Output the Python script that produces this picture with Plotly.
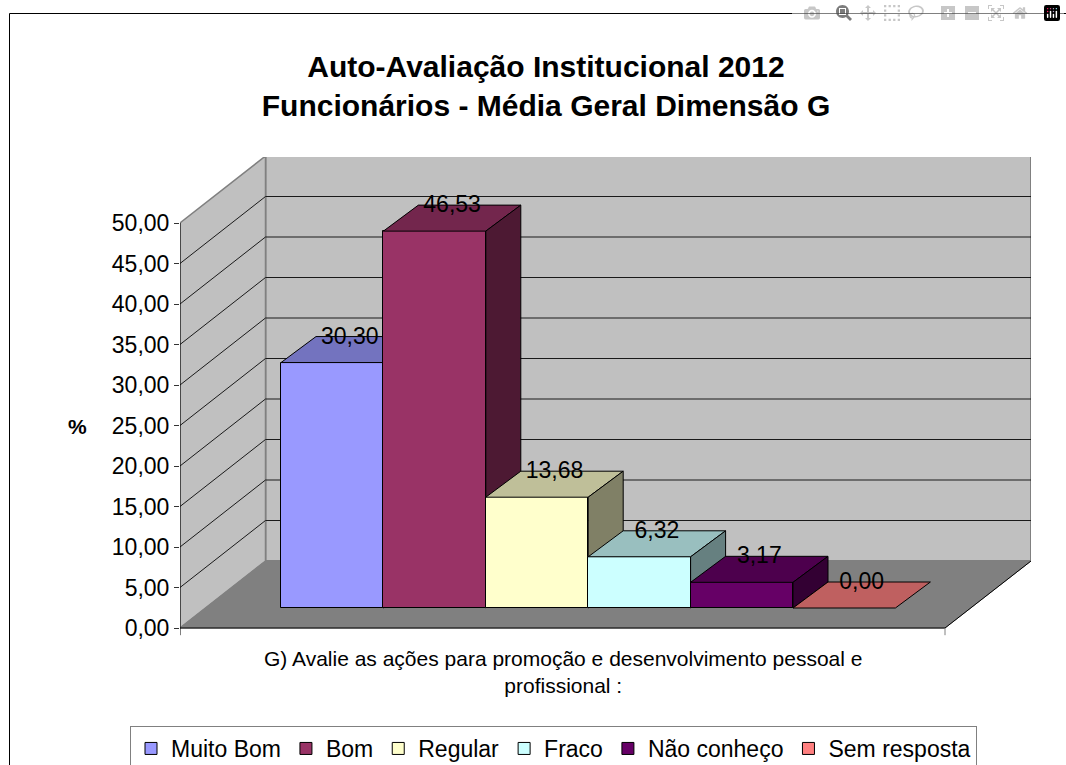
import plotly.graph_objects as go

# --- data ---
categories = ["Muito Bom", "Bom", "Regular", "Fraco", "Não conheço", "Sem resposta"]
values = [30.30, 46.53, 13.68, 6.32, 3.17, 0.00]
front_colors = ["#9999FF", "#993366", "#FFFFCC", "#CCFFFF", "#660066", "#FF8080"]
top_colors = ["#7373BF", "#73264D", "#BFBF99", "#99BFBF", "#4D004D", "#BF6060"]
side_colors = ["#4D4D80", "#4D1933", "#808066", "#668080", "#330033", "#804040"]
y_ticks = [0, 5, 10, 15, 20, 25, 30, 35, 40, 45, 50]
title_text = "Auto-Avaliação Institucional 2012<br>Funcionários - Média Geral Dimensão G"
x_label = "G) Avalie as ações para promoção e desenvolvimento pessoal e<br>profissional :"

# --- layout geometry (plot frame in pixels and 3-D projection in axis units) ---
W, H = 1066, 765
L, R, T, B = 180, 1031, 157, 640
PX_PER_BAR = 102.4
PX_PER_VAL = 8.1
X_MAX = (R - L) / PX_PER_BAR
Y_MIN = -(B - 628) / PX_PER_VAL
Y_MAX = (628 - T) / PX_PER_VAL
DEPTH_X = 85.5 / PX_PER_BAR
DEPTH_Y = 67 / PX_PER_VAL
FRONT_W = 765 / PX_PER_BAR
BASE_X = 25.5 / PX_PER_BAR
BASE_Y = 20 / PX_PER_VAL
BAR_DX = 35 / PX_PER_BAR
BAR_DY = 26 / PX_PER_VAL
FIRST_LEFT = 101 / PX_PER_BAR
FONT = "Liberation Sans, Arial, sans-serif"
TOP_V = y_ticks[-1]

fig = go.Figure()

def poly(xs, ys, fill, line, width=1, xa="x", ya="y"):
    fig.add_trace(go.Scatter(x=xs, y=ys, mode="lines", fill="toself", fillcolor=fill,
                             line=dict(color=line, width=width), showlegend=False,
                             hoverinfo="skip", xaxis=xa, yaxis=ya))

def lines(xs, ys, color, width=1):
    fig.add_trace(go.Scatter(x=xs, y=ys, mode="lines", line=dict(color=color, width=width),
                             showlegend=False, hoverinfo="skip"))

# walls and floor
poly([DEPTH_X, X_MAX, X_MAX, DEPTH_X, DEPTH_X],
     [DEPTH_Y, DEPTH_Y, TOP_V + DEPTH_Y, TOP_V + DEPTH_Y, DEPTH_Y], "#C0C0C0", "#808080", 2)
poly([0, DEPTH_X, DEPTH_X, 0, 0], [0, DEPTH_Y, TOP_V + DEPTH_Y, TOP_V, 0], "#C0C0C0", "#808080", 1.5)
poly([0, FRONT_W, X_MAX, DEPTH_X, 0], [0, 0, DEPTH_Y, DEPTH_Y, 0], "#808080", "#808080", 1)

# gridlines on the walls
gx, gy = [], []
for v in y_ticks[1:-1]:
    gx += [0, DEPTH_X, X_MAX, None]
    gy += [v, v + DEPTH_Y, v + DEPTH_Y, None]
lines(gx, gy, "#1a1a1a", 1)
# axis edges
lines([0, 0], [TOP_V, Y_MIN * 0.6], "#000000", 1)
lines([0, FRONT_W, X_MAX], [0, 0, DEPTH_Y], "#000000", 1)
lines([FRONT_W, FRONT_W], [0, Y_MIN * 0.6], "#808080", 1)

# one overlaid axis pair per series keeps bars painted left to right
for i, (name, v) in enumerate(zip(categories, values)):
    n = i + 2
    xa, ya = f"x{n}", f"y{n}"
    left = FIRST_LEFT + i
    right = left + 1
    top = BASE_Y + v
    fig.add_trace(go.Bar(x=[left + 0.5], y=[v], base=[BASE_Y], width=[1], name=name,
                         marker=dict(color=front_colors[i], line=dict(color="#000000", width=1)),
                         xaxis=xa, yaxis=ya, hoverinfo="skip"))
    poly([left, right, right + BAR_DX, left + BAR_DX, left],
         [top, top, top + BAR_DY, top + BAR_DY, top], top_colors[i], "#000000", 1, xa, ya)
    if v > 0:
        poly([right, right + BAR_DX, right + BAR_DX, right, right],
             [BASE_Y, BASE_Y + BAR_DY, top + BAR_DY, top, BASE_Y], side_colors[i], "#000000", 1, xa, ya)
    layout_axes = dict(overlaying="x", range=[0, X_MAX], visible=False, domain=[0, 1])
    fig.layout[f"xaxis{n}"] = layout_axes
    fig.layout[f"yaxis{n}"] = dict(overlaying="y", range=[Y_MIN, Y_MAX], visible=False, domain=[0, 1])

# data labels
n = len(values) + 1
fig.add_trace(go.Scatter(
    x=[FIRST_LEFT + i + 0.5 + BAR_DX / 2 for i in range(len(values))],
    y=[BASE_Y + v + BAR_DY * 0.95 for v in values],
    text=[f"{v:.2f}".replace(".", ",") for v in values],
    mode="text", textposition="middle center",
    textfont=dict(family=FONT, size=23, color="#000000"),
    showlegend=False, hoverinfo="skip", xaxis=f"x{n}", yaxis=f"y{n}"))

fig.update_layout(
    width=W, height=H, autosize=False,
    margin=dict(l=L, r=W - R, t=T, b=H - B, pad=0, autoexpand=False),
    paper_bgcolor="#FFFFFF", plot_bgcolor="rgba(0,0,0,0)",
    separators=",.",
    font=dict(family=FONT, color="#000000", size=23),
    title=dict(text=title_text, x=546 / W, xanchor="center", y=1 - 77 / H, yanchor="middle",
               font=dict(family=FONT, size=30, color="#000000", weight="bold")),
    xaxis=dict(range=[0, X_MAX], visible=False, domain=[0, 1], fixedrange=True),
    yaxis=dict(range=[Y_MIN, Y_MAX], tickmode="array", tickvals=y_ticks, tickformat=".2f",
               ticks="outside", ticklen=5, tickcolor="#333333", tickwidth=1,
               showgrid=False, zeroline=False, showline=False, domain=[0, 1],
               tickfont=dict(family=FONT, size=23, color="#000000"), fixedrange=True),
    bargap=0, barmode="overlay",
    legend=dict(orientation="h", x=(130 - L) / (R - L), xanchor="left",
                y=-(726 - B) / (B - T), yanchor="top",
                bgcolor="#FFFFFF", bordercolor="#808080", borderwidth=1,
                font=dict(family=FONT, size=23, color="#000000"), traceorder="normal"),
    annotations=[
        dict(text=x_label, xref="paper", yref="paper", x=(563 - L) / (R - L), xanchor="center",
             y=-(645 - B) / (B - T), yanchor="top", showarrow=False,
             font=dict(family=FONT, size=21, color="#000000")),
        dict(text="<b>%</b>", xref="paper", yref="paper", x=(77 - L) / (R - L), xanchor="center",
             y=1 - (426 - T) / (B - T), yanchor="middle", showarrow=False,
             font=dict(family=FONT, size=21, color="#000000")),
    ],
    shapes=[dict(type="rect", xref="paper", yref="paper",
                 x0=(9.5 - L) / (R - L), x1=(1100 - L) / (R - L),
                 y0=-(800 - B) / (B - T), y1=1 + (T - 13.5) / (B - T),
                 line=dict(color="#000000", width=1), layer="below")],
)
fig.write_html("out.html", post_script="document.body.style.margin='0';")
